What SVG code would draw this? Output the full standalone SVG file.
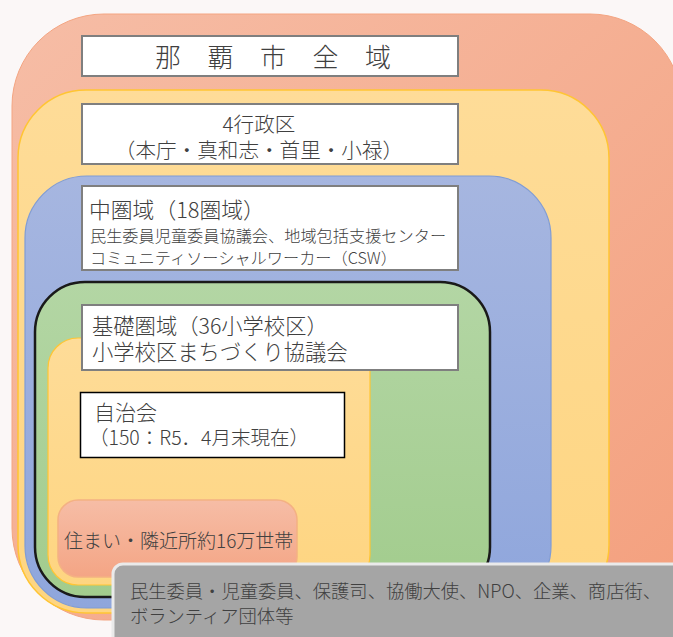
<svg xmlns="http://www.w3.org/2000/svg" width="673" height="637" viewBox="0 0 673 637">
<defs>
<linearGradient id="gSalmon" x1="0" y1="0" x2="1" y2="1"><stop offset="0" stop-color="#F6BDA6"/><stop offset="1" stop-color="#F4A07E"/></linearGradient>
<linearGradient id="gYellow" x1="0" y1="0" x2="0" y2="1"><stop offset="0" stop-color="#FEDC98"/><stop offset="1" stop-color="#FED581"/></linearGradient>
<linearGradient id="gBlue" x1="0" y1="0" x2="0" y2="1"><stop offset="0" stop-color="#A6B6E0"/><stop offset="1" stop-color="#8FA6DC"/></linearGradient>
<linearGradient id="gGreen" x1="0" y1="0" x2="0" y2="1"><stop offset="0" stop-color="#B3D6A4"/><stop offset="1" stop-color="#A2CC8D"/></linearGradient>
<linearGradient id="gHome" x1="0" y1="0" x2="0" y2="1"><stop offset="0" stop-color="#F6BDA6"/><stop offset="1" stop-color="#F4A585"/></linearGradient>
</defs>
<style>
text{font-family:"Noto Sans CJK JP","Noto Sans",sans-serif;fill:#404040;font-weight:300}
.lbl{fill:#fff;stroke:#7F7F7F;stroke-width:2}
.t16{font-size:16.2px}
</style>
<rect width="673" height="637" fill="#FBF7F7"/>
<g id="city">
<rect x="12" y="14" width="670" height="606" rx="92" ry="92" fill="url(#gSalmon)" stroke="#F4A582" stroke-width="1"/>
</g>
<g id="ward">
<rect x="18" y="90" width="591" height="523" rx="68" ry="68" fill="url(#gYellow)" stroke="#FFC533" stroke-width="1.5"/>
</g>
<g id="middle">
<rect x="25" y="176" width="526" height="432" rx="62" ry="62" fill="url(#gBlue)" stroke="#7F9CD6" stroke-width="1.2"/>
</g>
<g id="basic">
<rect x="35" y="282" width="455" height="315" rx="50" ry="50" fill="url(#gGreen)" stroke="#1A1A1A" stroke-width="2.5"/>
</g>
<g id="assoc-area">
<rect x="48" y="338" width="322" height="247" rx="30" ry="30" fill="url(#gYellow)" stroke="#FFC533" stroke-width="1.2"/>
</g>
<g id="label-city">
<rect class="lbl" x="82" y="36" width="376" height="40"/>
<text x="155" y="67" style="font-size:26px;letter-spacing:26.5px">那覇市全域</text>
</g>
<g id="label-ward">
<rect class="lbl" x="82" y="104" width="376" height="60"/>
<text text-anchor="middle" style="font-size:20.6px"><tspan x="259" y="132">4行政区</tspan><tspan x="259" y="158">（本庁・真和志・首里・小禄）</tspan></text>
</g>
<g id="label-middle">
<rect class="lbl" x="82" y="186" width="376" height="84"/>
<text x="89" y="218" style="font-size:21.8px">中圏域（18圏域）</text>
<text class="t16"><tspan x="90" y="242">民生委員児童委員協議会、地域包括支援センター</tspan><tspan x="90" y="264">コミュニティソーシャルワーカー（CSW）</tspan></text>
</g>
<g id="label-basic">
<rect class="lbl" x="82" y="305" width="376" height="65"/>
<text style="font-size:21.3px"><tspan x="92" y="334">基礎圏域（36小学校区）</tspan><tspan x="92" y="360">小学校区まちづくり協議会</tspan></text>
</g>
<g id="label-assoc">
<rect x="80.5" y="392.5" width="264" height="65" fill="#fff" stroke="#000" stroke-width="1.5"/>
<text x="94" y="420" style="font-size:21px">自治会</text>
<text x="89" y="445" style="font-size:19.5px">（150：R5．4月末現在）</text>
</g>
<g id="homes">
<rect x="58" y="500" width="239" height="77" rx="20" ry="20" fill="url(#gHome)" stroke="#F4B183" stroke-width="1.5"/>
<text x="64" y="548" style="font-size:19px">住まい・隣近所約16万世帯</text>
</g>
<g id="members">
<rect x="113" y="564" width="580" height="100" rx="10" ry="10" fill="#A5A5A5" stroke="#EAEAEA" stroke-width="3"/>
<text style="font-size:18.3px"><tspan x="130" y="598">民生委員・児童委員、保護司、協働大使、NPO、企業、商店街、</tspan><tspan x="130" y="623">ボランティア団体等</tspan></text>
</g>
</svg>
